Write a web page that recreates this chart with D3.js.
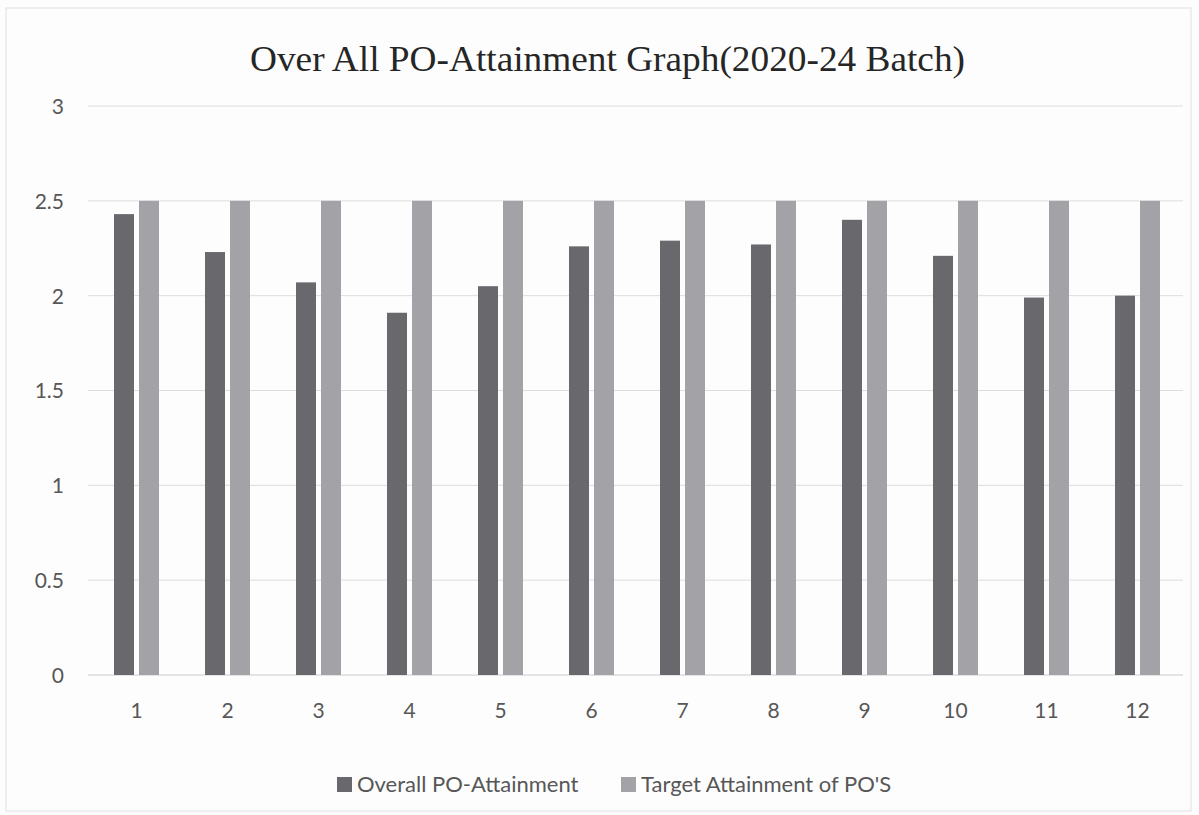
<!DOCTYPE html>
<html lang="en">
<head>
  <meta charset="utf-8">
  <title>Over All PO-Attainment Graph</title>
  <script src="https://d3js.org/d3.v7.min.js"></script>
  <style>
    body { margin: 0; background: #fdfdfd; }
    #chart text { font-family: Lato, "Open Sans", sans-serif; fill: #575757; }
    #chart .title { font-family: "Liberation Serif", "DejaVu Serif", serif; fill: #262626; }
  </style>
</head>
<body>
  <div id="chart"></div>
  <script>
    "use strict";
    // dados
    var categorias = ["1", "2", "3", "4", "5", "6", "7", "8", "9", "10", "11", "12"];
    var overall = [2.43, 2.23, 2.07, 1.91, 2.05, 2.26, 2.29, 2.27, 2.40, 2.21, 1.99, 2.00];
    var target = [2.5, 2.5, 2.5, 2.5, 2.5, 2.5, 2.5, 2.5, 2.5, 2.5, 2.5, 2.5];
    var yTicks = [0, 0.5, 1, 1.5, 2, 2.5, 3];
    var series = ["Overall PO-Attainment", "Target Attainment of PO'S"];
    var cores = ["#69686d", "#a3a2a7"];

    var W = 1199, H = 815;
    var margin = {top: 106, right: 16, bottom: 140, left: 91};

    var svg = d3.select("#chart").append("svg")
      .attr("width", W).attr("height", H);

    svg.append("rect")
      .attr("x", 6).attr("y", 8).attr("width", W - 14).attr("height", H - 12)
      .attr("fill", "#fdfdfd").attr("stroke", "#e0e0e0");

    var x = d3.scaleBand().domain(categorias).range([margin.left, W - margin.right]);
    var y = d3.scaleLinear().domain([0, 3]).range([H - margin.bottom, margin.top]);

    // grade
    svg.append("g").selectAll("line")
      .data(yTicks).enter().append("line")
        .attr("x1", margin.left - 3).attr("x2", W - margin.right)
        .attr("y1", d => y(d)).attr("y2", d => y(d))
        .attr("stroke", d => d === 0 ? "#cccccc" : "#dddddd")
        .attr("stroke-width", 1);

    // eixo y
    var eixoY = svg.append("g")
      .attr("transform", "translate(" + (margin.left - 24) + ",0)")
      .call(d3.axisLeft(y).tickValues(yTicks).tickSize(0).tickFormat(d3.format("")));
    eixoY.select(".domain").remove();
    eixoY.selectAll("text").attr("font-size", 21).attr("dy", "0.35em");

    // eixo x
    var eixoX = svg.append("g")
      .attr("transform", "translate(0," + (H - margin.bottom) + ")")
      .call(d3.axisBottom(x).tickSize(0));
    eixoX.select(".domain").remove();
    eixoX.selectAll("text").attr("font-size", 21).attr("y", 28);

    // barras
    var larg = 20, folga = 5;
    var dados = categorias.map((c, i) => ({cat: c, v: [overall[i], target[i]]}));
    var grupos = svg.append("g").selectAll("g")
      .data(dados).enter().append("g")
        .attr("transform", d => "translate(" + (x(d.cat) + x.bandwidth() / 2) + ",0)");
    grupos.selectAll("rect")
      .data(d => d.v).enter().append("rect")
        .attr("x", (d, i) => i === 0 ? -larg - folga / 2 : folga / 2)
        .attr("width", larg)
        .attr("y", d => y(d))
        .attr("height", d => y(0) - y(d))
        .attr("fill", (d, i) => cores[i]);

    // titulo
    svg.append("text").attr("class", "title")
      .attr("x", 250).attr("y", 71)
      .attr("font-size", 35)
      .attr("textLength", 715).attr("lengthAdjust", "spacingAndGlyphs")
      .text("Over All PO-Attainment Graph(2020-24 Batch)");

    // legenda
    var legX = [337, 621];
    var leg = svg.append("g").selectAll("g")
      .data(series).enter().append("g")
        .attr("transform", (d, i) => "translate(" + legX[i] + ",777)");
    leg.append("rect").attr("width", 15).attr("height", 15).attr("fill", (d, i) => cores[i]);
    leg.append("text").attr("x", 20).attr("y", 15).attr("font-size", 22).text(d => d);
  </script>
</body>
</html>
